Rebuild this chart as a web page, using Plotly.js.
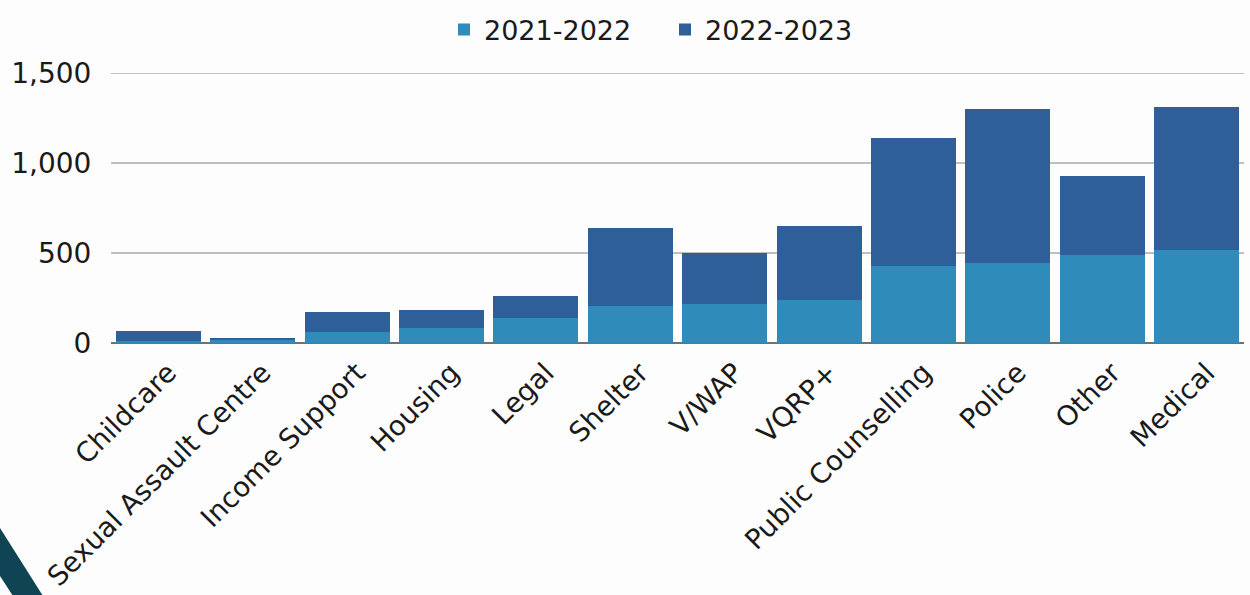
<!DOCTYPE html>
<html>
<head>
<meta charset="utf-8">
<script src="https://cdn.plot.ly/plotly-3.0.1.min.js"></script>
<style>html,body{margin:0;padding:0;background:#fdfdfd;}#chart{width:1250px;height:595px;}</style>
</head>
<body>
<div id="chart"></div>
<script>
const categories = ["Childcare","Sexual Assault Centre","Income Support","Housing","Legal","Shelter","V/WAP","VQRP+","Public Counselling","Police","Other","Medical"];
const series2021 = [11, 17, 62, 84, 139, 206, 217, 239, 428, 445, 490, 518];
const series2022 = [56, 11, 110, 100, 122, 434, 284, 412, 713, 857, 439, 795];
const seriesNames = ["2021-2022", "2022-2023"];
const yTickVals = [0, 500, 1000, 1500];
const yTickText = ["0", "500", "1,000", "1,500"];

const FONT = "DejaVu Sans, Verdana, sans-serif";
const W = 1250, H = 595, L = 111, R = 6, T = 68, B = 252;
const px = p => (p - L) / (W - L - R);
const py = q => (H - B - q) / (H - T - B);

const traces = [
  {type: "bar", name: seriesNames[0], x: categories, y: series2021, marker: {color: "#2E8BBA"}},
  {type: "bar", name: seriesNames[1], x: categories, y: series2022, marker: {color: "#2E5F98"}}
];

const layout = {
  width: W, height: H,
  margin: {l: L, r: R, t: T, b: B, autoexpand: false},
  paper_bgcolor: "#fdfdfd", plot_bgcolor: "#fdfdfd",
  barmode: "stack", bargap: 0.1,
  font: {family: FONT, size: 27, color: "#1a1a1a"},
  showlegend: true,
  legend: {orientation: "h", x: px(444), xanchor: "left", y: py(30), yanchor: "middle",
           font: {family: FONT, size: 27, color: "#1a1a1a"}, itemwidth: 30, entrywidth: 176,
           traceorder: "normal", bgcolor: "rgba(0,0,0,0)"},
  xaxis: {tickangle: -45, showgrid: false, ticks: "", showline: false, zeroline: false,
          ticklabelshift: 10, ticklabelstandoff: 7,
          tickfont: {family: FONT, size: 27.5, color: "#1a1a1a"}, automargin: false},
  yaxis: {range: [0, 1530], tickvals: yTickVals, ticktext: yTickText, showgrid: true,
          gridcolor: "#bfbfbf", gridwidth: 1.7, zeroline: true, zerolinecolor: "#707070", zerolinewidth: 1.6,
          ticks: "outside", ticklen: 13, tickcolor: "rgba(0,0,0,0)", showline: false,
          tickfont: {family: FONT, size: 28, color: "#1a1a1a"}, automargin: false},
  shapes: [{
    type: "path", xref: "paper", yref: "paper", layer: "below",
    path: "M " + px(0) + "," + py(528) + " L " + px(43) + "," + py(596) + " L " + px(13) + "," + py(596) + " L " + px(0) + "," + py(576) + " Z",
    fillcolor: "#0E4453", line: {width: 0}
  }]
};

Plotly.newPlot("chart", traces, layout, {displayModeBar: false, staticPlot: true});
</script>
</body>
</html>
